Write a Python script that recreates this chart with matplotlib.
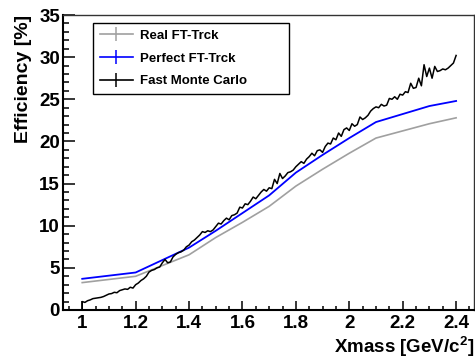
import matplotlib
matplotlib.use("Agg")
import matplotlib.pyplot as plt
from matplotlib.lines import Line2D
from matplotlib.ticker import MultipleLocator, FuncFormatter

plt.rcParams['font.family'] = ['Liberation Sans', 'DejaVu Sans']
plt.rcParams['font.weight'] = 'bold'
plt.rcParams['mathtext.fontset'] = 'custom'
plt.rcParams['mathtext.rm'] = 'Liberation Sans:bold'
plt.rcParams['mathtext.it'] = 'Liberation Sans:bold'
plt.rcParams['mathtext.bf'] = 'Liberation Sans:bold'

# ---------------- data ----------------
mass_pts = [1.0, 1.2, 1.4, 1.5, 1.6, 1.7, 1.8, 1.9, 2.0, 2.1, 2.3, 2.4]
real_ft = [3.25, 4.0, 6.55, 8.6, 10.4, 12.3, 14.7, 16.7, 18.6, 20.4, 22.1, 22.8]
perfect_ft = [3.7, 4.45, 7.4, 9.4, 11.5, 13.6, 16.3, 18.4, 20.4, 22.3, 24.2, 24.8]

fmc_x = [1.00, 1.00, 1.01, 1.02, 1.03, 1.04, 1.05, 1.06, 1.07, 1.08, 1.09,
         1.10, 1.11, 1.12, 1.13, 1.14, 1.15, 1.16, 1.17, 1.18, 1.19,
         1.20, 1.21, 1.22, 1.23, 1.24, 1.25, 1.26, 1.27, 1.28, 1.29,
         1.30, 1.31, 1.32, 1.33, 1.34, 1.35, 1.36, 1.37, 1.38, 1.39,
         1.40, 1.41, 1.42, 1.43, 1.44, 1.45, 1.46, 1.47, 1.48, 1.49,
         1.50, 1.51, 1.52, 1.53, 1.54, 1.55, 1.56, 1.57, 1.58, 1.59,
         1.60, 1.61, 1.62, 1.63, 1.64, 1.65, 1.66, 1.67, 1.68, 1.69,
         1.70, 1.71, 1.72, 1.73, 1.74, 1.75, 1.76, 1.77, 1.78, 1.79,
         1.80, 1.81, 1.82, 1.83, 1.84, 1.85, 1.86, 1.87, 1.88, 1.89,
         1.90, 1.91, 1.92, 1.93, 1.94, 1.95, 1.96, 1.97, 1.98, 1.99,
         2.00, 2.01, 2.02, 2.03, 2.04, 2.05, 2.06, 2.07, 2.08, 2.09,
         2.10, 2.11, 2.12, 2.13, 2.14, 2.15, 2.16, 2.17, 2.18, 2.19,
         2.20, 2.21, 2.22, 2.23, 2.24, 2.25, 2.26, 2.27, 2.28, 2.29,
         2.30, 2.31, 2.32, 2.33, 2.34, 2.35, 2.36, 2.37, 2.38, 2.39, 2.40]
fmc_y = [0.0, 1.0, 0.9, 1.1, 1.2, 1.35, 1.4, 1.45, 1.5, 1.6, 1.75,
         1.9, 1.95, 2.1, 2.05, 2.3, 2.4, 2.5, 2.45, 2.7, 2.6,
         3.0, 3.2, 3.5, 3.7, 4.0, 4.5, 4.7, 4.8, 5.0, 5.1,
         5.6, 6.0, 5.6, 5.7, 6.3, 6.6, 6.8, 6.9, 7.1, 7.5,
         7.7, 8.1, 8.3, 8.6, 8.9, 9.3, 9.2, 9.4, 9.3, 9.5,
         9.9, 10.3, 10.2, 10.6, 10.9, 10.7, 11.2, 11.3, 11.5, 12.2,
         12.1, 12.6, 12.5, 12.9, 13.4, 13.2, 13.6, 14.0, 14.3, 14.1,
         14.5, 14.4, 15.5, 15.0, 16.2, 15.6, 15.9, 16.3, 16.4, 16.6,
         17.0, 17.3, 17.6, 17.4, 17.9, 18.2, 18.6, 18.3, 18.9, 19.0,
         18.7, 19.4, 19.8, 19.7, 20.4, 20.2, 21.0, 20.6, 21.4, 21.6,
         21.3, 22.1, 21.8, 22.0, 22.9, 22.6, 22.8, 23.1, 23.6, 23.9,
         24.1, 24.0, 24.4, 24.2, 24.3, 25.1, 25.0, 25.3, 25.0, 25.6,
         25.5, 25.9, 25.8, 26.9, 26.3, 26.4, 27.5, 26.6, 29.1, 27.7,
         28.7, 27.5, 28.9, 28.3, 28.4, 28.6, 28.5, 28.7, 29.0, 29.3, 30.2]

labels = ["Real FT-Trck", "Perfect FT-Trck", "Fast Monte Carlo"]
colors = ["#a0a0a0", "#0000ff", "#000000"]

# ---------------- figure ----------------
W, H = 475, 360
fig = plt.figure(figsize=(W / 100, H / 100), dpi=100)
ax = fig.add_axes([63 / W, 50 / H, 411 / W, 295 / H])

ax.plot(mass_pts, real_ft, color=colors[0], lw=1.2)
ax.plot(mass_pts, perfect_ft, color=colors[1], lw=1.3)
ax.plot(fmc_x, fmc_y, color=colors[2], lw=1.1)

ax.set_xlim(0.928, 2.467)
ax.set_ylim(0, 35)

ax.xaxis.set_major_locator(MultipleLocator(0.2))
ax.xaxis.set_minor_locator(MultipleLocator(0.05))
ax.yaxis.set_major_locator(MultipleLocator(5))
ax.yaxis.set_minor_locator(MultipleLocator(1))
ax.xaxis.set_major_formatter(FuncFormatter(lambda v, p: "%g" % round(v, 2)))

ax.tick_params(axis='both', which='both', direction='in', top=False, right=False,
               width=1.1, colors='black', labelsize=13.5)
ax.tick_params(axis='y', which='major', length=8.3, pad=2.2)
ax.tick_params(axis='y', which='minor', length=4.1)
ax.tick_params(axis='x', which='major', length=6.7, pad=3.5)
ax.tick_params(axis='x', which='minor', length=3.2)
for lab in ax.get_xticklabels() + ax.get_yticklabels():
    lab.set_fontweight('bold')

for s in ['left', 'bottom']:
    ax.spines[s].set_linewidth(1.5)
    ax.spines[s].set_color('black')
for s in ['top', 'right']:
    ax.spines[s].set_linewidth(1.0)
    ax.spines[s].set_color('#333333')

ax.set_ylabel("Efficiency [%]", fontsize=14, fontweight='bold', loc='top')
ax.yaxis.set_label_coords(-0.0754, 1.0)
ax.set_xlabel(r"Xmass [GeV/c$^{2}$]", fontsize=13.5, fontweight='bold', loc='right')
ax.xaxis.set_label_coords(1.0, -0.147)
ax.xaxis.label.set_va('baseline')

handles = [Line2D([], [], color=c, lw=1.2, marker='|', markersize=10,
                  markeredgewidth=1.1) for c in colors]
leg = ax.legend(handles, labels, loc='upper left',
                bbox_to_anchor=(93 / W, 1 - 96 / H, (289 - 93) / W, (96 - 23) / H),
                bbox_transform=fig.transFigure, mode='expand', borderaxespad=0,
                prop={'family': 'Liberation Sans', 'weight': 'bold', 'size': 9.5},
                handlelength=2.5, handletextpad=0.55, borderpad=0.5,
                labelspacing=0.8, fancybox=False, framealpha=1, numpoints=1)
leg.get_frame().set_edgecolor('black')
leg.get_frame().set_linewidth(1.0)

fig.savefig("out.png", dpi=100)
